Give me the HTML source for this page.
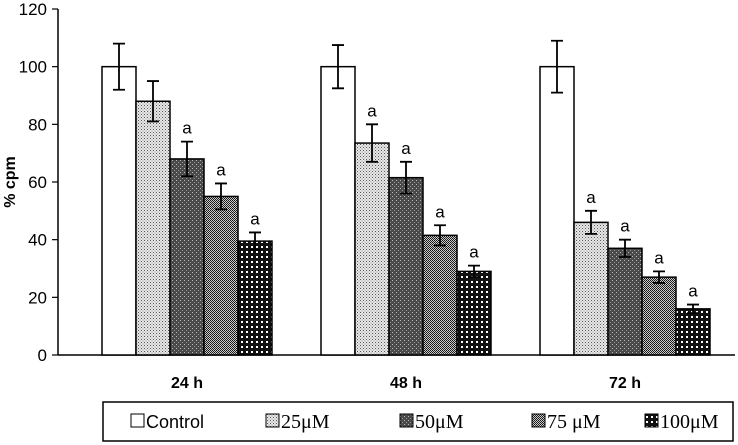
<!DOCTYPE html>
<html><head><meta charset="utf-8"><style>
html,body{margin:0;padding:0;background:#fff;width:738px;height:445px;overflow:hidden}
text{font-family:"Liberation Sans",Arial,sans-serif}
</style></head><body>
<svg id="chart" width="738" height="445" viewBox="0 0 738 445" xmlns="http://www.w3.org/2000/svg">
<defs>
<pattern id="p1" width="3" height="3" patternUnits="userSpaceOnUse"><rect width="3" height="3" fill="#e8e8e8"/><rect x="0" y="0" width="1" height="1" fill="#555"/><rect x="1.5" y="1.5" width="1" height="1" fill="#888"/></pattern>
<pattern id="p2" width="4" height="4" patternUnits="userSpaceOnUse"><rect width="4" height="4" fill="#4a4a4a"/><rect x="0" y="0" width="1" height="1" fill="#bbb"/><rect x="2" y="2" width="1" height="1" fill="#999"/></pattern>
<pattern id="p3" width="2" height="2" patternUnits="userSpaceOnUse"><rect width="2" height="2" fill="#ccc"/><rect width="1" height="1" fill="#111"/><rect x="1" y="1" width="1" height="1" fill="#222"/></pattern>
<pattern id="p4" width="5" height="5" patternUnits="userSpaceOnUse"><rect width="5" height="5" fill="#111"/><rect x="1" y="1" width="2" height="2" fill="#fff"/></pattern>
</defs>
<g id="axes"></g>
<g id="bars"></g>
<g>
<rect x="103" y="402" width="630" height="39" fill="#fff" stroke="#000" stroke-width="1.5"/>
<g id="legend"></g>
</g>
</svg>
<script>
const categories = ["24 h","48 h","72 h"];
const seriesNames = ["Control","25\u03bcM","50\u03bcM","75 \u03bcM","100\u03bcM"];
const control = [100,100,100];
const s25 = [88,73.5,46];
const s50 = [68,61.5,37];
const s75 = [55,41.5,27];
const s100 = [39.5,29,16];
const errControl = [8,7.5,9];
const err25 = [7,6.5,4];
const err50 = [6,5.5,3];
const err75 = [4.5,3.5,2];
const err100 = [3,2,1.5];
const sigLabels = [["","","a","a","a"],["","a","a","a","a"],["","a","a","a","a"]];
const yTicks = [0,20,40,60,80,100,120];

const NS="http://www.w3.org/2000/svg";
const y0=355, yTop=9, yMax=120;
const yS=v=>y0-(v/yMax)*(y0-yTop);
const xC=i=>187+i*219;
const bw=34;
const fills=["#fff","url(#p1)","url(#p2)","url(#p3)","url(#p4)"];
const series=[control,s25,s50,s75,s100];
const errs=[errControl,err25,err50,err75,err100];
function mk(t,a,p){const e=document.createElementNS(NS,t);for(const k in a)e.setAttribute(k,a[k]);p.appendChild(e);return e;}
const ax=document.getElementById('axes');
const yaxis=mk('line',{x1:58,y1:yTop,x2:58,y2:y0,stroke:'#000','stroke-width':1.5},ax);


const xaxis=mk('line',{x1:58,y1:y0,x2:735,y2:y0,stroke:'#000','stroke-width':1.5},ax);


yTicks.forEach(v=>{
  mk('line',{x1:52,y1:yS(v),x2:58,y2:yS(v),stroke:'#000','stroke-width':1.2},ax);
  const t=mk('text',{x:47,y:yS(v)+6,'text-anchor':'end','font-size':17},ax);t.textContent=v;
  
  
});
const yt=mk('text',{x:0,y:0,'text-anchor':'middle','font-size':16,'font-weight':'bold',transform:'translate(15,182) rotate(-90)'},ax);
yt.textContent='% cpm';


categories.forEach((c,i)=>{
  const t=mk('text',{x:xC(i),y:388,'text-anchor':'middle','font-size':16,'font-weight':'bold'},ax);t.textContent=c;
  
  
});
const bg=document.getElementById('bars');
categories.forEach((c,i)=>{
  series.forEach((s,j)=>{
    const x=xC(i)-85+j*bw, v=s[i], e=errs[j][i];
    const r=mk('rect',{x:x,y:yS(v),width:bw,height:y0-yS(v),fill:fills[j],stroke:'#000','stroke-width':1.5},bg);
    
    
    const cx=x+bw/2;
    const eb=mk('path',{d:`M${cx},${yS(v+e)}V${yS(v-e)}M${cx-6},${yS(v+e)}H${cx+6}M${cx-6},${yS(v-e)}H${cx+6}`,stroke:'#000','stroke-width':1.8,fill:'none'},bg);
    
    
    if(sigLabels[i][j]){
      const t=mk('text',{x:cx,y:yS(v+e)-8,'text-anchor':'middle','font-size':17},bg);t.textContent=sigLabels[i][j];
      
      
    }
  });
});
const lg=document.getElementById('legend');
const lx=[131,266,400,532,645];
seriesNames.forEach((n,j)=>{
  const r=mk('rect',{x:lx[j],y:414,width:13,height:13,fill:fills[j],stroke:'#000'},lg);
  
  
  const t=mk('text',{x:lx[j]+15,y:428,'font-size':18},lg);t.textContent=n;
  if(j>0)t.setAttribute('style','font-family:"Liberation Serif",serif;font-size:20px');
  
  
});
</script>
</body></html>
